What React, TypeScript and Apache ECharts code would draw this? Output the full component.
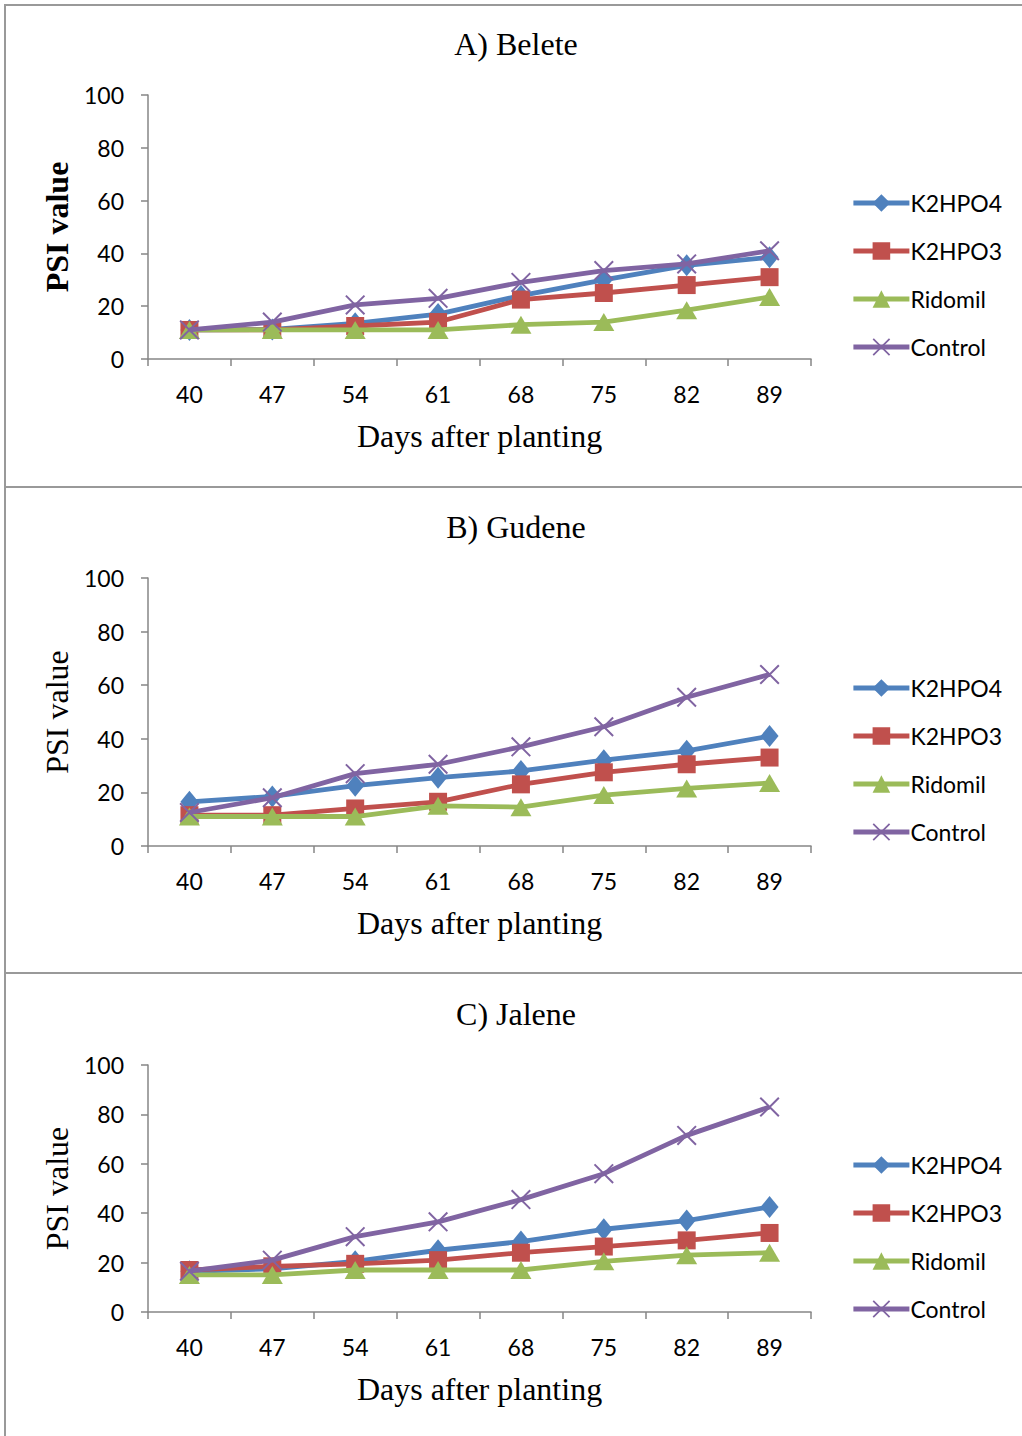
import React, { useEffect, useRef } from 'react';
import * as echarts from 'echarts';

const days = ['40', '47', '54', '61', '68', '75', '82', '89'];
const seriesNames = ['K2HPO4', 'K2HPO3', 'Ridomil', 'Control'];
const panelTitles = ['A) Belete', 'B) Gudene', 'C) Jalene'];

const beleteK2HPO4 = [11, 11.2, 13.5, 17, 24, 30, 35.5, 38.5];
const beleteK2HPO3 = [11, 11, 12.5, 14, 22.5, 25, 28, 31];
const beleteRidomil = [11, 11, 11, 11, 13, 14, 18.5, 23.5];
const beleteControl = [11, 14, 20.5, 23, 29, 33.5, 36, 41];

const gudeneK2HPO4 = [16.5, 18.5, 22.5, 25.5, 28, 32, 35.5, 41];
const gudeneK2HPO3 = [11.5, 11.5, 14, 16.5, 23, 27.5, 30.5, 33];
const gudeneRidomil = [11, 11, 11, 15, 14.5, 19, 21.5, 23.5];
const gudeneControl = [12.5, 18, 27, 30.5, 37, 44.5, 55.5, 64];

const jaleneK2HPO4 = [16.5, 17.5, 20.5, 25, 28.5, 33.5, 37, 42.5];
const jaleneK2HPO3 = [17, 18.5, 19.5, 21, 24, 26.5, 29, 32];
const jaleneRidomil = [15, 15, 17, 17, 17, 20.5, 23, 24];
const jaleneControl = [16.5, 21, 30.5, 36.5, 45.5, 56, 71.5, 83];

const panelData = [
  [beleteK2HPO4, beleteK2HPO3, beleteRidomil, beleteControl],
  [gudeneK2HPO4, gudeneK2HPO3, gudeneRidomil, gudeneControl],
  [jaleneK2HPO4, jaleneK2HPO3, jaleneRidomil, jaleneControl],
];

const colors = ['#4F81BD', '#C0504D', '#9BBB59', '#8064A2'];
const crossPath = 'path://M0,0.7 L0.7,0 L10,9.3 L9.3,10 Z M9.3,0 L10,0.7 L0.7,10 L0,9.3 Z';
const symbols = ['diamond', 'rect', 'triangle', crossPath];
const symbolSizes: any[] = [[18, 22], 18, [21, 18], 20];

const grids = [
  { left: 148, top: 95, width: 663, height: 264 },
  { left: 148, top: 578, width: 663, height: 268 },
  { left: 148, top: 1065, width: 663, height: 247 },
];
const titleY = [44, 527, 1014];
const legendTop = [186, 671, 1148];
const axisGray = '#868686';
const serif = '"Liberation Serif", "Times New Roman", serif';
const sans = 'Lato, "Noto Sans", sans-serif';

export default function App() {
  const ref = useRef<HTMLDivElement>(null);
  useEffect(() => {
    if (!ref.current) return;
    const chart = echarts.init(ref.current, null, { renderer: 'svg' });
    const series: any[] = [];
    panelData.forEach((arrs, p) => {
      arrs.forEach((vals, i) => {
        series.push({
          type: 'line',
          name: seriesNames[i],
          xAxisIndex: p,
          yAxisIndex: p,
          data: vals,
          symbol: symbols[i],
          symbolSize: symbolSizes[i],
          showAllSymbol: true,
          lineStyle: { color: colors[i], width: 4.8 },
          itemStyle: { color: colors[i] },
          z: 2 + i,
        });
      });
    });
    const option: any = {
      animation: false,
      backgroundColor: '#ffffff',
      grid: grids,
      xAxis: grids.map((_, p) => ({
        type: 'category',
        gridIndex: p,
        data: days,
        boundaryGap: true,
        axisLine: { lineStyle: { color: axisGray, width: 1.5 } },
        axisTick: { show: true, length: 7, lineStyle: { color: axisGray, width: 1.5 } },
        axisLabel: { color: '#000', fontFamily: sans, fontSize: 23, margin: 23 },
        splitLine: { show: false },
        name: 'Days after planting',
        nameLocation: 'middle',
        nameGap: 61,
        nameTextStyle: { color: '#000', fontFamily: serif, fontSize: 32 },
      })),
      yAxis: grids.map((_, p) => ({
        type: 'value',
        gridIndex: p,
        min: 0,
        max: 100,
        interval: 20,
        axisLine: { show: true, lineStyle: { color: axisGray, width: 1.5 } },
        axisTick: { show: true, length: 7, lineStyle: { color: axisGray, width: 1.5 } },
        axisLabel: { color: '#000', fontFamily: sans, fontSize: 23, margin: 24 },
        splitLine: { show: false },
        name: 'PSI value',
        nameLocation: 'middle',
        nameGap: 72,
        nameTextStyle: {
          color: '#000',
          fontFamily: serif,
          fontSize: 32,
          fontWeight: p === 0 ? 'bold' : 'normal',
        },
      })),
      legend: legendTop.map((t) => ({
        orient: 'vertical',
        left: 846,
        top: t,
        itemWidth: 56,
        itemHeight: 22,
        itemGap: 24,
        data: seriesNames,
        selectedMode: false,
        lineStyle: { width: 4.8 },
        textStyle: { color: '#000', fontFamily: sans, fontSize: 23, lineHeight: 24, padding: [0, 0, 0, -4] },
      })),
      graphic: [
        { type: 'line', shape: { x1: 5, y1: 4, x2: 5, y2: 1436 }, style: { stroke: '#999', lineWidth: 2 } },
        { type: 'line', shape: { x1: 4, y1: 5, x2: 1022, y2: 5 }, style: { stroke: '#999', lineWidth: 2 } },
        { type: 'line', shape: { x1: 4, y1: 487, x2: 1022, y2: 487 }, style: { stroke: '#999', lineWidth: 2 } },
        { type: 'line', shape: { x1: 4, y1: 973, x2: 1022, y2: 973 }, style: { stroke: '#999', lineWidth: 2 } },
        ...panelTitles.map((t, p) => ({
          type: 'text',
          x: 516,
          y: titleY[p],
          style: {
            text: t,
            fill: '#000',
            font: `32px ${serif}`,
            textAlign: 'center',
            textVerticalAlign: 'middle',
          },
        })),
      ],
      series,
    };
    chart.setOption(option);
    return () => chart.dispose();
  }, []);
  return (
    <div
      ref={ref}
      style={{ position: 'absolute', left: 0, top: 0, width: 1022, height: 1436, background: '#fff' }}
    />
  );
}
